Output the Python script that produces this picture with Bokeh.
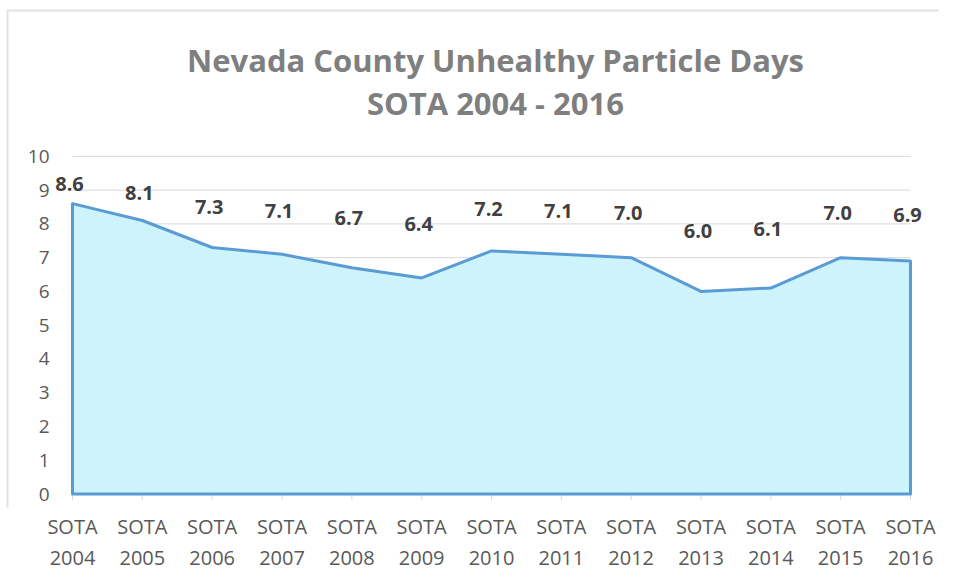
from bokeh.plotting import figure
from bokeh.models import (ColumnDataSource, LabelSet, FixedTicker, LinearAxis, Range1d)
from bokeh.core.properties import value
from bokeh.embed import file_html
from bokeh.resources import INLINE

years = ["2004", "2005", "2006", "2007", "2008", "2009", "2010", "2011", "2012", "2013", "2014", "2015", "2016"]
values = [8.6, 8.1, 7.3, 7.1, 6.7, 6.4, 7.2, 7.1, 7.0, 6.0, 6.1, 7.0, 6.9]
y_ticks = [0, 1, 2, 3, 4, 5, 6, 7, 8, 9, 10]
title_lines = ["Nevada County Unhealthy Particle Days", "SOTA 2004 - 2016"]

xs = list(range(len(years)))
n = len(years) - 1

FONT = "Open Sans"
GRAY = "#595959"

# layout geometry (pixels): first category at 72, last at 910, y=0 at 494, y=10 at 156
W, H = 946, 573
RIGHT_PAD = 8
X0_PX, XN_PX = 72, 910
Y0_PX, PX_PER_UNIT = 494, 33.8
X_PER_PX = n / (XN_PX - X0_PX)
FRAME_BOTTOM = 507.5


def px_to_x(px):
    return (px - X0_PX) * X_PER_PX


def px_to_y(py):
    return (Y0_PX - py) / PX_PER_UNIT


p = figure(width=W, height=H, output_backend="svg", toolbar_location=None,
           x_range=Range1d(px_to_x(0), px_to_x(W - RIGHT_PAD)),
           y_range=Range1d(px_to_y(FRAME_BOTTOM), px_to_y(0)),
           min_border_left=0, min_border_right=RIGHT_PAD, min_border_top=0, min_border_bottom=H - 507,
           x_axis_location=None, y_axis_location=None)
p.outline_line_color = None
p.xgrid.grid_line_color = None
p.ygrid.grid_line_color = None

# light chart-area border (top and left)
p.segment(x0=[px_to_x(6), px_to_x(7)], x1=[px_to_x(W - RIGHT_PAD), px_to_x(7)],
          y0=[px_to_y(10), px_to_y(10)], y1=[px_to_y(10), px_to_y(FRAME_BOTTOM + 5)],
          line_color="#e2e2e2", line_width=2)

# two-line title, centred over the plot
p.text(x=[n / 2] * 2, y=[px_to_y(60), px_to_y(103)], text=title_lines,
       text_align="center", text_baseline="middle",
       text_font=value(FONT), text_font_size="31px", text_font_style="bold",
       text_color="#7f7f7f", x_offset=4)

# horizontal gridlines over the data span
p.segment(x0=[xs[0]] * len(y_ticks), x1=[xs[-1]] * len(y_ticks), y0=y_ticks, y1=y_ticks,
          line_color="#d9d9d9", line_width=1)

# x tick marks below the zero line
tick_len = 6 / PX_PER_UNIT
p.segment(x0=xs, x1=xs, y0=[0] * len(xs), y1=[-tick_len] * len(xs),
          line_color="#d9d9d9", line_width=1)

# y tick labels
p.text(x=[px_to_x(49)] * len(y_ticks), y=y_ticks, text=[str(t) for t in y_ticks],
       text_align="right", text_baseline="middle", text_font=value(FONT),
       text_font_size="19px", text_color=GRAY)

# area
px = [xs[0]] + xs + [xs[-1]]
py = [0] + values + [0]
p.patch(px, py, fill_color="#CCF4FA", line_color="#5B9BD5", line_width=3, line_join="round")

ax1 = LinearAxis(ticker=FixedTicker(ticks=xs), bounds=(xs[0], xs[-1]),
                 major_label_overrides={i: "SOTA" for i in xs})
ax1.axis_line_color = None
ax1.major_tick_line_color = None
ax1.major_tick_out = 0
ax1.major_tick_in = 0
ax1.minor_tick_line_color = None
ax1.major_label_text_font = FONT
ax1.major_label_text_font_size = "20px"
ax1.major_label_text_color = GRAY
ax1.major_label_standoff = 5
p.add_layout(ax1, "below")

ax2 = LinearAxis(ticker=FixedTicker(ticks=xs), bounds=(xs[0], xs[-1]),
                 major_label_overrides={i: y for i, y in zip(xs, years)})
ax2.axis_line_color = None
ax2.major_tick_line_color = None
ax2.minor_tick_line_color = None
ax2.major_label_text_font = FONT
ax2.major_label_text_font_size = "20px"
ax2.major_label_text_color = GRAY
ax2.major_label_standoff = 2
p.add_layout(ax2, "below")

# data labels
label_y = [4.55 + 0.54 * v for v in values]
src = ColumnDataSource(dict(x=xs, y=label_y, t=["%.1f" % v for v in values]))
labels = LabelSet(x="x", y="y", text="t", source=src, text_align="center", text_baseline="middle",
                  text_font=value(FONT), text_font_size="20px", text_font_style="bold",
                  text_color="#404040", x_offset=-3)
p.add_layout(labels)

open("out.html", "w").write(file_html(p, INLINE))
